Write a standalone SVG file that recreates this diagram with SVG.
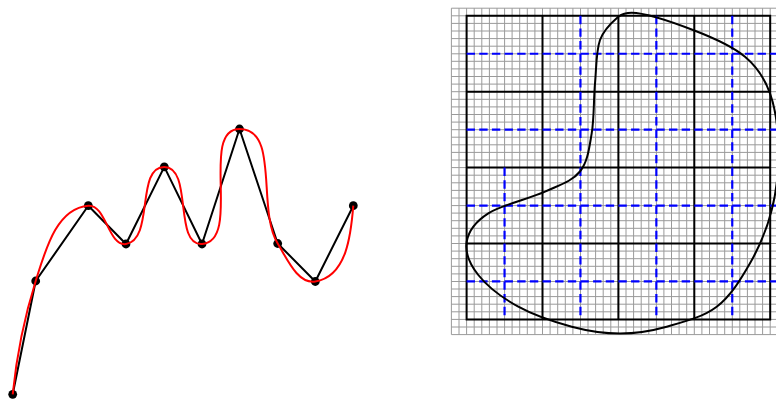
<svg xmlns="http://www.w3.org/2000/svg" width="776" height="401" viewBox="0 0 776 401">
<style>
.poly{fill:none;stroke:#000;stroke-width:2;stroke-linejoin:round}
.spline{fill:none;stroke:#f00;stroke-width:2}
.dot{fill:#000}
.fine{fill:none;stroke:#9a9a9a;stroke-width:1}
.major{fill:none;stroke:#000;stroke-width:2;stroke-linecap:square}
.dash{fill:none;stroke:#00f;stroke-width:2.2;stroke-dasharray:8.4 4.25}
.blob{fill:none;stroke:#000;stroke-width:2}
</style>
<rect width="776" height="401" fill="#fff"/>
<g id="connectors">
<polyline class="poly" points="12.7,394.3 35.7,281 88.3,205.7 126,244 164.3,166.9 202,244 239.5,129 277.7,243.5 315.3,281.5 353.3,205.7"/>
</g>
<g id="nodes">
<g id="p0"><circle class="dot" cx="12.7" cy="394.3" r="4.4"/></g>
<g id="p1"><circle class="dot" cx="35.7" cy="281" r="4.4"/></g>
<g id="p2"><circle class="dot" cx="88.3" cy="205.7" r="4.4"/></g>
<g id="p3"><circle class="dot" cx="126" cy="244" r="4.4"/></g>
<g id="p4"><circle class="dot" cx="164.3" cy="166.9" r="4.4"/></g>
<g id="p5"><circle class="dot" cx="202" cy="244" r="4.4"/></g>
<g id="p6"><circle class="dot" cx="239.5" cy="129" r="4.4"/></g>
<g id="p7"><circle class="dot" cx="277.7" cy="243.5" r="4.4"/></g>
<g id="p8"><circle class="dot" cx="315.3" cy="281.5" r="4.4"/></g>
<g id="p9"><circle class="dot" cx="353.3" cy="205.7" r="4.4"/></g>
</g>
<g id="spline-curve">
<path class="spline" d="M12.7 394.3C16.55 355.95 24.14 317.77 35.7 281C45.6 249.52 56.42 208.38 88.3 205.7C106.15 204.2 108.32 246.82 126 244C154.34 239.48 135.6 166.81 164.3 166.9C192.91 166.99 173.46 246 202 244C242.22 241.19 199.18 129.12 239.5 129C279.73 128.88 256.64 209.23 277.7 243.5C287.03 258.68 297.7 284.3 315.3 281.5C346.9 276.5 351.04 233.9 353.3 205.7"/>
</g>
<g id="grid">
<path class="fine" d="M451.4 8.2V334.6M459 8.2V334.6M466.6 8.2V334.6M474.2 8.2V334.6M481.8 8.2V334.6M489.4 8.2V334.6M497 8.2V334.6M504.6 8.2V334.6M512.1 8.2V334.6M519.7 8.2V334.6M527.3 8.2V334.6M534.9 8.2V334.6M542.5 8.2V334.6M550.1 8.2V334.6M557.7 8.2V334.6M565.3 8.2V334.6M572.9 8.2V334.6M580.5 8.2V334.6M588 8.2V334.6M595.6 8.2V334.6M603.2 8.2V334.6M610.8 8.2V334.6M618.4 8.2V334.6M626 8.2V334.6M633.6 8.2V334.6M641.2 8.2V334.6M648.8 8.2V334.6M656.4 8.2V334.6M663.9 8.2V334.6M671.5 8.2V334.6M679.1 8.2V334.6M686.7 8.2V334.6M694.3 8.2V334.6M701.9 8.2V334.6M709.5 8.2V334.6M717.1 8.2V334.6M724.7 8.2V334.6M732.3 8.2V334.6M739.8 8.2V334.6M747.4 8.2V334.6M755 8.2V334.6M762.6 8.2V334.6M770.2 8.2V334.6
M451.4 8.2H776M451.4 15.8H776M451.4 23.4H776M451.4 31H776M451.4 38.6H776M451.4 46.2H776M451.4 53.8H776M451.4 61.3H776M451.4 68.9H776M451.4 76.5H776M451.4 84.1H776M451.4 91.7H776M451.4 99.3H776M451.4 106.9H776M451.4 114.5H776M451.4 122.1H776M451.4 129.7H776M451.4 137.2H776M451.4 144.8H776M451.4 152.4H776M451.4 160H776M451.4 167.6H776M451.4 175.2H776M451.4 182.8H776M451.4 190.4H776M451.4 198H776M451.4 205.6H776M451.4 213.1H776M451.4 220.7H776M451.4 228.3H776M451.4 235.9H776M451.4 243.5H776M451.4 251.1H776M451.4 258.7H776M451.4 266.3H776M451.4 273.9H776M451.4 281.5H776M451.4 289H776M451.4 296.6H776M451.4 304.2H776M451.4 311.8H776M451.4 319.4H776M451.4 327H776M451.4 334.6H776"/>
<path class="major" d="M466.6 15.8H770.2M466.6 91.7H770.2M466.6 167.6H770.2M466.6 243.5H770.2M466.6 319.4H770.2M466.6 15.8V319.4M542.5 15.8V319.4M618.4 15.8V319.4M694.3 15.8V319.4M770.2 15.8V319.4"/>
<path class="dash" d="M466.6 53.75H776M466.6 129.65H776M466.6 205.55H776M466.6 281.45H776M504.55 167.6V319.4M580.45 15.8V319.4M656.35 15.8V319.4M732.25 15.8V319.4"/>
</g>
<g id="blob">
<path class="blob" d="M631.7 12.7C645 12.7 676.1 23.4 695 30.7C713.9 38 732.5 46.3 745 56.7C757.5 67.1 764.4 77.8 770 93.3C775.6 108.9 778.2 130.6 778.5 150C778.8 169.5 776.5 191.1 771.7 210C767 228.9 759.2 247.2 750 263.3C740.8 279.4 730.6 296.1 716.7 306.7C702.8 317.3 682.8 322.2 666.7 326.7C650.6 331.2 635.8 333.5 620 333.5C604.2 333.5 588.7 331.2 571.7 326.7C554.8 322.2 533.9 315.3 518.3 306.7C502.7 298.1 486.9 285.8 478.3 275C469.7 264.2 465 252 466.7 241.7C468.4 231.4 475.3 221.6 488.3 213.3C501.4 205 529.7 198.7 545 191.7C560.3 184.7 572.2 181.2 580 171.5C587.8 161.8 589.2 148 591.7 133.3C594.2 118.6 593.6 98.9 595 83.3C596.4 67.8 596.1 51.1 600 40C603.9 28.9 613 21.3 618.3 16.7C622.5 13.6 627 12.7 631.7 12.7Z"/>
</g>
</svg>
